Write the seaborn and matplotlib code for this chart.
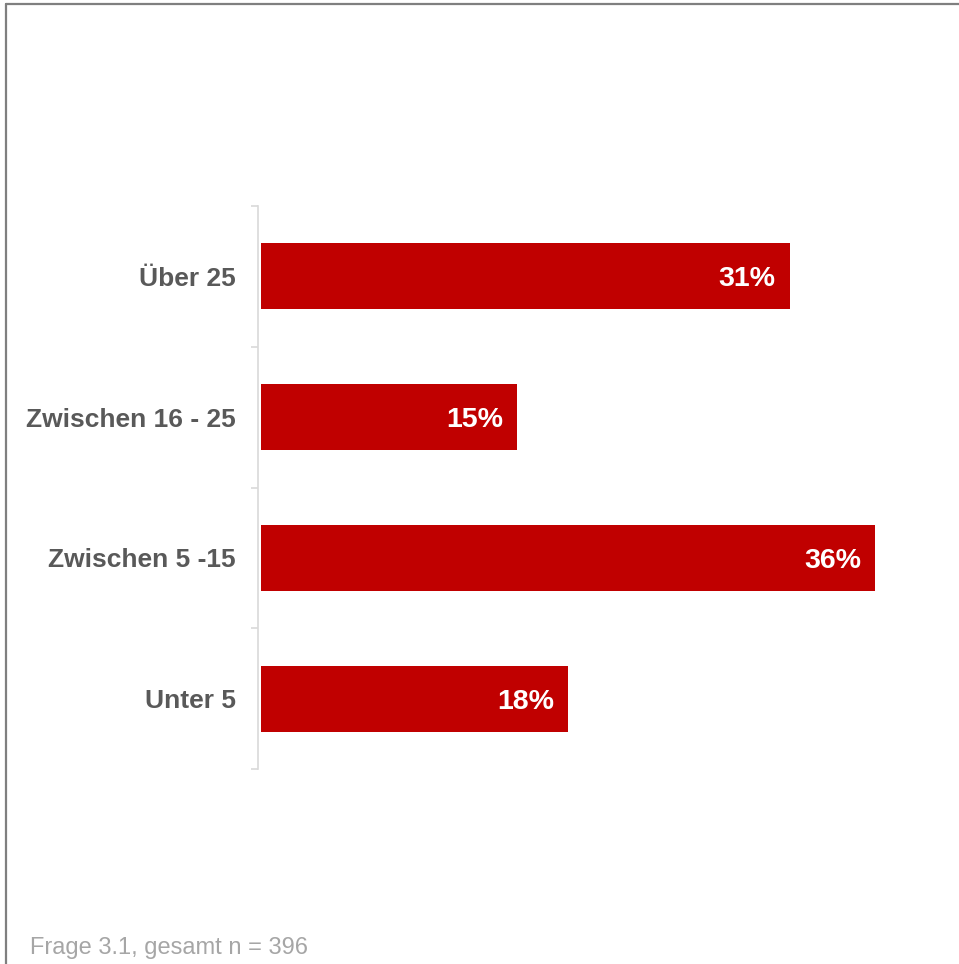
import matplotlib
matplotlib.use("Agg")
import matplotlib.pyplot as plt
from matplotlib.lines import Line2D
import seaborn as sns
import pandas as pd

# Survey answers (share of respondents, in %)
categories = ["Über 25", "Zwischen 16 - 25", "Zwischen 5 -15", "Unter 5"]
shares = [31, 15, 36, 18]
value_labels = ["31%", "15%", "36%", "18%"]
footnote = "Frage 3.1, gesamt n = 396"

BAR_RED = "#C00000"
LABEL_GREY = "#595959"
AXIS_GREY = "#D9D9D9"
NOTE_GREY = "#A6A6A6"
FRAME_GREY = "#7F7F7F"

sns.set_theme(style="white")
plt.rcParams["font.family"] = ["Liberation Sans", "DejaVu Sans"]
plt.rcParams["font.weight"] = "bold"

df = pd.DataFrame({"kategorie": categories, "anteil": shares})

W, H = 959, 964
fig = plt.figure(figsize=(W / 100, H / 100), dpi=100)

# axes placed in pixel terms: x from 261 px, y from 206 px to 769 px
left_px, right_px, top_px, bottom_px = 261, 943, 206, 769
ax = fig.add_axes([left_px / W, 1 - bottom_px / H,
                   (right_px - left_px) / W, (bottom_px - top_px) / H])

sns.barplot(data=df, x="anteil", y="kategorie", order=categories,
            color=BAR_RED, saturation=1, width=0.47, orient="h", ax=ax)
for patch in ax.patches:
    patch.set_edgecolor("none")

ax.set_xlim(0, 40)
ax.set_ylim(len(categories) - 0.5, -0.5)
ax.set_xlabel("")
ax.set_ylabel("")
ax.set_xticks([])

# category labels on major ticks, boundary tick marks as minor ticks
ax.set_yticks(range(len(categories)))
ax.tick_params(axis="y", which="major", length=0, pad=16,
               labelsize=19, labelcolor=LABEL_GREY)
ax.set_yticks([i - 0.5 for i in range(len(categories) + 1)], minor=True)
ax.tick_params(axis="y", which="minor", length=5, width=1.2, color=AXIS_GREY, left=True)

for side in ["top", "right", "bottom"]:
    ax.spines[side].set_visible(False)
ax.spines["left"].set_color(AXIS_GREY)
ax.spines["left"].set_linewidth(1.2)
ax.spines["left"].set_position(("outward", 2))

# value labels inside the bar ends
for i, (v, lab) in enumerate(zip(shares, value_labels)):
    ax.annotate(lab, xy=(v, i), xytext=(-10, 0), textcoords="offset points",
                ha="right", va="center_baseline", fontsize=20.5,
                fontweight="bold", color="white")

# footnote
fig.text(30 / W, 1 - 948 / H, footnote, fontsize=17, color=NOTE_GREY,
         fontweight="normal", ha="left", va="center")

# partial frame: top and left edge
fig.add_artist(Line2D([5.5 / W, 1], [1 - 4 / H, 1 - 4 / H],
                      transform=fig.transFigure, color=FRAME_GREY, lw=1.6))
fig.add_artist(Line2D([5.5 / W, 5.5 / W], [0, 1 - 4 / H],
                      transform=fig.transFigure, color=FRAME_GREY, lw=1.6))

fig.savefig("out.png", dpi=100)
